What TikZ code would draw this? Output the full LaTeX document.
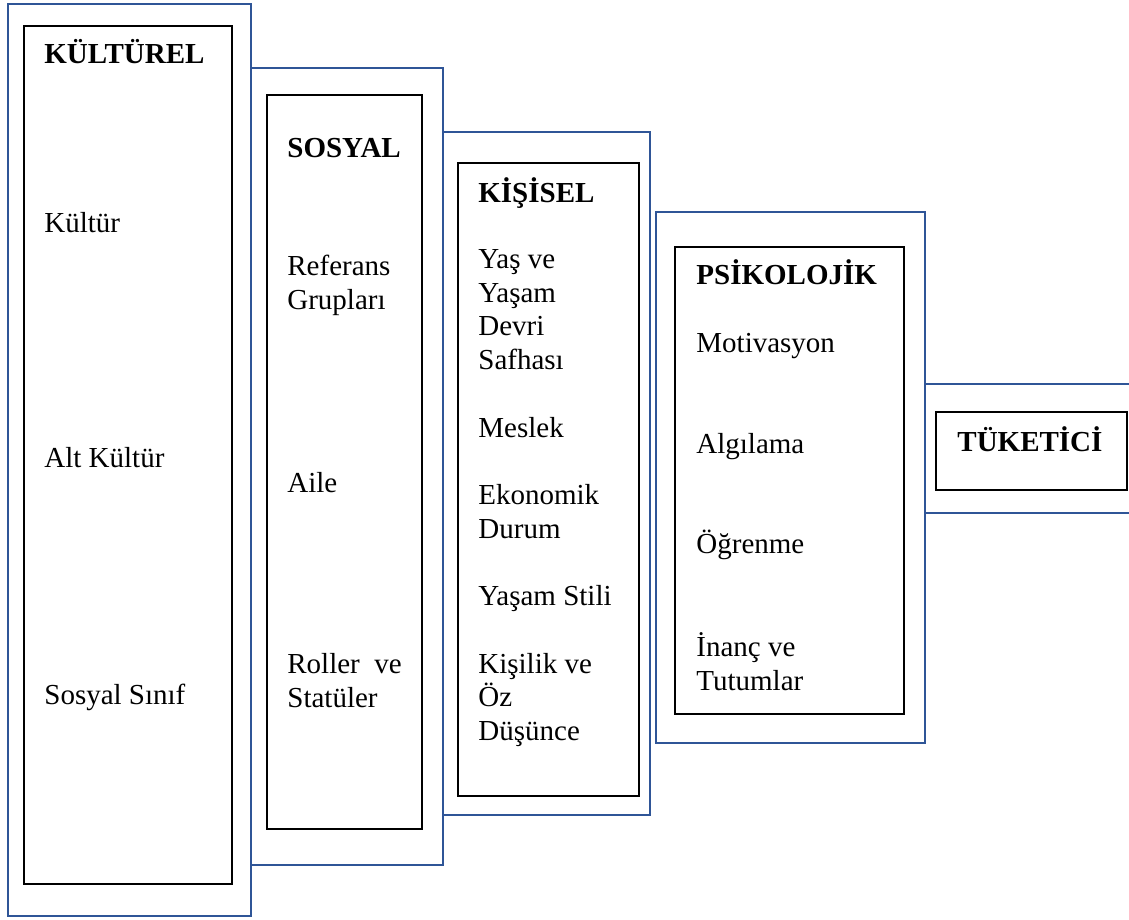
\documentclass[tikz,border=0pt]{standalone}
\usepackage{fontspec}
\setmainfont{Liberation Serif}
\definecolor{boxblue}{RGB}{47,85,151}
\tikzset{
	outer/.style={draw=boxblue, line width=1.3pt},
	inner/.style={draw=black, line width=0.7pt},
	item/.style={anchor=base west, align=left, inner sep=0pt, font=\fontsize{14.5}{16.75}\selectfont},
	head/.style={item, font=\fontsize{14.5}{16.75}\selectfont\bfseries}
}

\begin{document}
\begin{tikzpicture}[x=0.5pt, y=-0.5pt]
		\useasboundingbox (0,0) rectangle (1129,920);

		\draw[outer] (8,4) rectangle (251,916); % Outer frames.
		\draw[outer] (251,68) rectangle (443,865);
		\draw[outer] (443,132) rectangle (650,815);
		\draw[outer] (656,212) rectangle (925,743);
		\draw[outer] (1129,384) -- (925,384) -- (925,513) -- (1129,513);

		\draw[inner] (24,26) rectangle (232,884); % Inner frames.
		\draw[inner] (267,95) rectangle (422,829);
		\draw[inner] (458,163) rectangle (639,796);
		\draw[inner] (675,247) rectangle (904,714);
		\draw[inner] (936,412) rectangle (1127,490);

		% multi-line items sit on their last baseline
		\node[head] (kul) at (44,64) {KÜLTÜREL};
		\node[item] (kul1) at (44,232) {Kültür};
		\node[item] (kul2) at (44,467) {Alt Kültür};
		\node[item] (kul3) at (44,704) {Sosyal Sınıf};

		\node[head] (sos) at (287,157) {SOSYAL};
		\node[item] (sos1) at (287,309) {Referans\\Grupları};
		\node[item] (sos2) at (287,492) {Aile};
		\node[item] (sos3) at (287,707) {Roller\hspace{0.5em}ve\\Statüler};

		\node[head] (kis) at (478,202) {KİŞİSEL};
		\node[item] (kis1) at (478,369) {Yaş ve\\Yaşam\\Devri\\Safhası};
		\node[item] (kis2) at (478,437) {Meslek};
		\node[item] (kis3) at (478,538) {Ekonomik\\Durum};
		\node[item] (kis4) at (478,605) {Yaşam Stili};
		\node[item] (kis5) at (478,740) {Kişilik ve\\Öz\\Düşünce};

		\node[head] (psi) at (696,284) {PSİKOLOJİK};
		\node[item] (psi1) at (696,352) {Motivasyon};
		\node[item] (psi2) at (696,453) {Algılama};
		\node[item] (psi3) at (696,553) {Öğrenme};
		\node[item] (psi4) at (696,690) {İnanç ve\\Tutumlar};

		\node[head] (tuk) at (957,451) {TÜKETİCİ};
	\end{tikzpicture}
\end{document}
